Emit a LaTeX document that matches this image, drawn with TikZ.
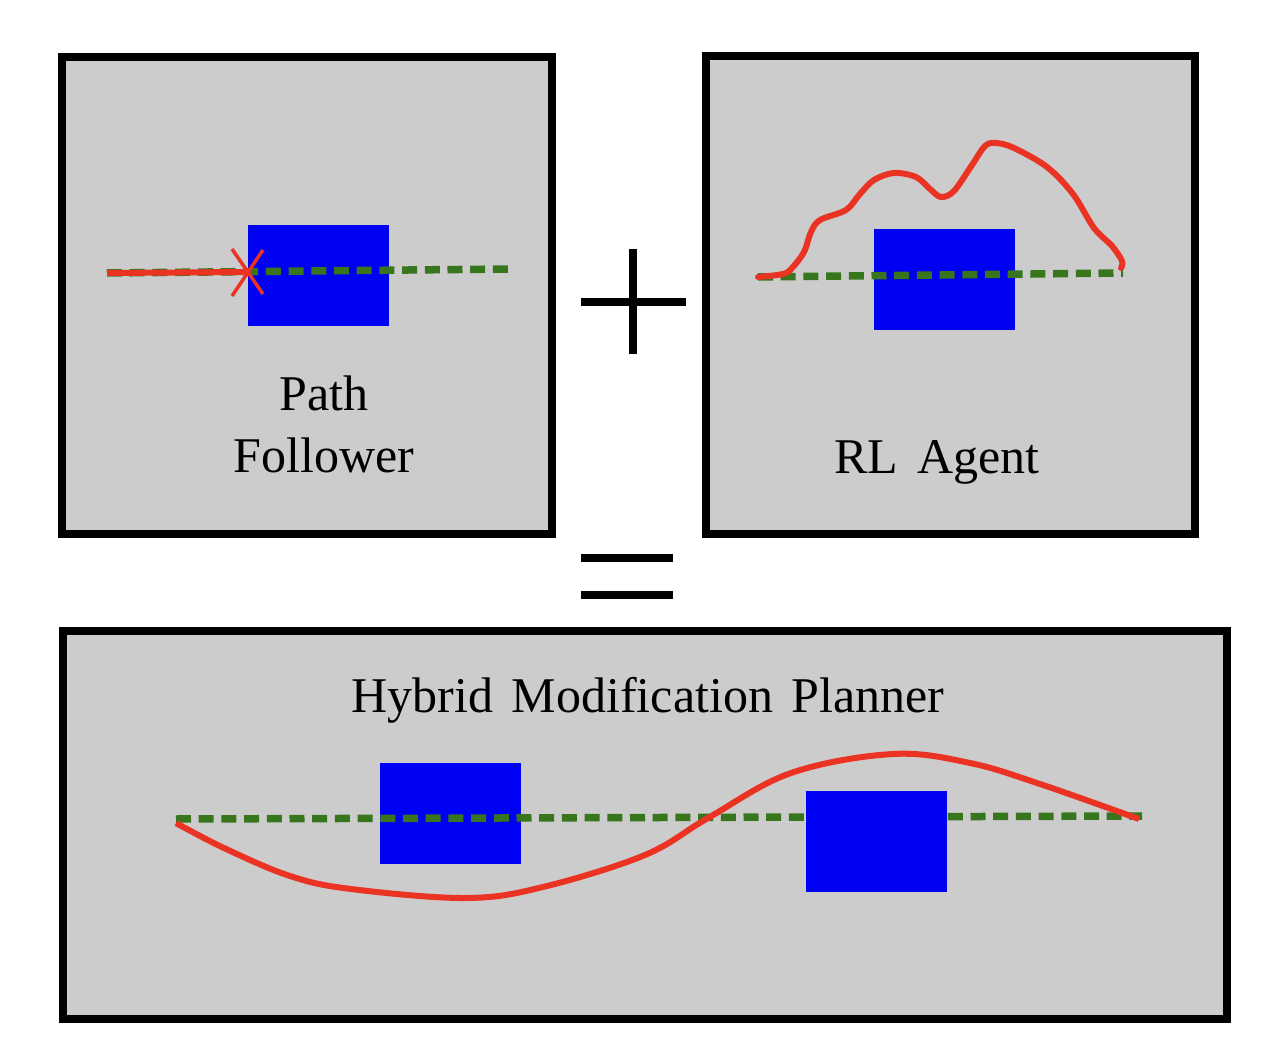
\documentclass[tikz,border=0pt]{standalone}
\usepackage{fontspec}
\setmainfont[WordSpace=1.5]{Liberation Serif}
\definecolor{panelgray}{RGB}{204,204,204}
\definecolor{obsblue}{RGB}{0,0,242}
\definecolor{pathred}{RGB}{234,51,35}
\definecolor{pathgreen}{RGB}{56,118,29}
\begin{document}
\begin{tikzpicture}[x=1pt,y=-1pt,
  frame/.style={draw=black,line width=8pt,fill=panelgray},
  obstacle/.style={fill=obsblue},
  refpath/.style={draw=pathgreen,line width=7.5pt,dash pattern=on 15pt off 7.7pt},
  trajectory/.style={draw=pathred,line width=6pt,line join=round,line cap=round},
  symbol/.style={draw=black,line width=8pt},
  label/.style={font=\fontsize{50}{62}\selectfont,inner sep=0pt,align=center,anchor=base}]
\useasboundingbox (0,0) rectangle (1272,1056);
% frames
\draw[frame] (62,57) rectangle (552,534);
\draw[frame] (706,56) rectangle (1195,534);
\draw[frame] (63,631) rectangle (1227,1019);
% top-left: path follower
\fill[obstacle] (248,225) rectangle (389,326);
\coordinate (pfs) at (107,273);
\coordinate (pfe) at (509,269);
\draw[refpath] (pfs) -- (pfe);
\coordinate (pfx) at (248,272);
\draw[trajectory,line cap=butt] (pfs) -- (pfx);
\draw[draw=pathred,line width=3.5pt] (232,249) -- (263,294);
\draw[draw=pathred,line width=3.5pt] (263,250) -- (232,296);
\node[label] (pf) at (324,410) {Path};
\node[label] (pf2) at (324,472) {Follower};
% plus
\draw[symbol] (633,249) -- (633,354);
\draw[symbol] (581,302) -- (686,302);
% top-right: RL agent
\fill[obstacle] (874,229) rectangle (1015,330);
\coordinate (rls) at (758,277);
\coordinate (rle) at (1123,273);
\draw[refpath] (rls) -- (rle);
\draw[trajectory] plot[smooth,tension=0.55] coordinates {
 (758,277) (783,274) (792,268) (804,252) (811,232) (820,220) (846,210)
 (860,194) (874,180) (894,173) (916,177) (930,189) (941,197) (954,191)
 (972,165) (985,146) (996,143) (1014,148) (1047,167) (1073,194)
 (1094,228) (1112,246) (1122,261) (1121,268)};
\node[label] (rl) at (937,473) {RL Agent};
% equals
\draw[symbol] (581,558) -- (673,558);
\draw[symbol] (581,595) -- (673,595);
% bottom: hybrid planner
\fill[obstacle] (380,763) rectangle (521,864);
\coordinate (hs) at (176,819);
\coordinate (he) at (1142,816);
\draw[refpath] (hs) -- (he);
\fill[obstacle] (806,791) rectangle (947,892);
\draw[trajectory,line cap=butt] plot[smooth,tension=0.6] coordinates {
 (176,823) (224,848) (290,876) (351,889) (466,898) (543,887) (645,855)
 (708,818) (791,773) (893,754) (970,763) (1040,784) (1139,819)};
\node[label] (hm) at (648,712) {Hybrid Modification Planner};
\end{tikzpicture}
\end{document}
